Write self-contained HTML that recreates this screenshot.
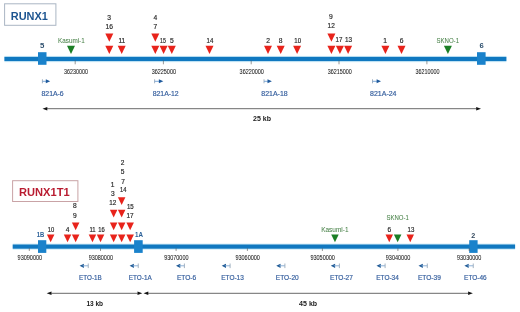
<!DOCTYPE html>
<html><head><meta charset="utf-8"><title>RUNX1 / RUNX1T1</title>
<style>
html,body{margin:0;padding:0;background:#fff;}
body{width:520px;height:312px;overflow:hidden;}
svg{display:block;font-family:'Liberation Sans', Arial, sans-serif;}
</style></head>
<body>
<svg width="520" height="312" viewBox="0 0 520 312">
<rect x="0" y="0" width="520" height="312" fill="#fff"/>
<rect x="4.6" y="3.8" width="51.3" height="21.5" fill="none" stroke="#aab6c4" stroke-width="1"/>
<text x="29.35" y="20.30" font-size="11.7" fill="#1c5490" text-anchor="middle" font-weight="bold" textLength="37.10" lengthAdjust="spacingAndGlyphs">RUNX1</text>
<rect x="4.40" y="55.90" width="502.00" height="6.30" fill="#d3eef9" />
<rect x="4.40" y="56.85" width="502.00" height="4.25" fill="#1078c0" />
<rect x="38.00" y="52.20" width="8.50" height="12.60" fill="#1a82cb" />
<rect x="477.00" y="52.20" width="8.60" height="12.60" fill="#1a82cb" />
<text x="42.20" y="47.80" font-size="7.8" fill="#2d4f6e" text-anchor="middle" font-weight="bold">5</text>
<text x="481.70" y="47.50" font-size="7.6" fill="#2d4f6e" text-anchor="middle" font-weight="bold">6</text>
<line x1="75.20" y1="60.50" x2="75.20" y2="64.30" stroke="#555" stroke-width="0.6"/>
<text x="75.90" y="73.60" font-size="6.6" fill="#222" text-anchor="middle" textLength="24.00" lengthAdjust="spacingAndGlyphs" stroke="#222" stroke-width="0.06">36230000</text>
<line x1="163.40" y1="60.50" x2="163.40" y2="64.30" stroke="#555" stroke-width="0.6"/>
<text x="163.85" y="73.60" font-size="6.6" fill="#222" text-anchor="middle" textLength="24.30" lengthAdjust="spacingAndGlyphs" stroke="#222" stroke-width="0.06">36225000</text>
<line x1="251.20" y1="60.50" x2="251.20" y2="64.30" stroke="#555" stroke-width="0.6"/>
<text x="251.75" y="73.60" font-size="6.6" fill="#222" text-anchor="middle" textLength="24.30" lengthAdjust="spacingAndGlyphs" stroke="#222" stroke-width="0.06">36220000</text>
<line x1="339.00" y1="60.50" x2="339.00" y2="64.30" stroke="#555" stroke-width="0.6"/>
<text x="339.70" y="73.60" font-size="6.6" fill="#222" text-anchor="middle" textLength="24.00" lengthAdjust="spacingAndGlyphs" stroke="#222" stroke-width="0.06">36215000</text>
<line x1="426.90" y1="60.50" x2="426.90" y2="64.30" stroke="#555" stroke-width="0.6"/>
<text x="427.50" y="73.60" font-size="6.6" fill="#222" text-anchor="middle" textLength="24.20" lengthAdjust="spacingAndGlyphs" stroke="#222" stroke-width="0.06">36210000</text>
<polygon points="105.30,33.40 113.30,33.40 109.30,41.70" fill="#e8231b"/>
<polygon points="105.30,45.70 113.30,45.70 109.30,54.10" fill="#e8231b"/>
<polygon points="117.70,45.70 125.70,45.70 121.70,54.10" fill="#e8231b"/>
<polygon points="151.30,33.40 159.30,33.40 155.30,41.70" fill="#e8231b"/>
<polygon points="151.30,45.70 159.30,45.70 155.30,54.10" fill="#e8231b"/>
<polygon points="159.60,45.70 167.60,45.70 163.60,54.10" fill="#e8231b"/>
<polygon points="167.80,45.70 175.80,45.70 171.80,54.10" fill="#e8231b"/>
<polygon points="205.50,45.70 213.50,45.70 209.50,54.10" fill="#e8231b"/>
<polygon points="264.00,45.70 272.00,45.70 268.00,54.10" fill="#e8231b"/>
<polygon points="276.70,45.70 284.70,45.70 280.70,54.10" fill="#e8231b"/>
<polygon points="293.10,45.70 301.10,45.70 297.10,54.10" fill="#e8231b"/>
<polygon points="327.40,33.40 335.40,33.40 331.40,41.70" fill="#e8231b"/>
<polygon points="327.40,45.70 335.40,45.70 331.40,54.10" fill="#e8231b"/>
<polygon points="335.90,45.70 343.90,45.70 339.90,54.10" fill="#e8231b"/>
<polygon points="344.10,45.70 352.10,45.70 348.10,54.10" fill="#e8231b"/>
<polygon points="381.40,45.70 389.40,45.70 385.40,54.10" fill="#e8231b"/>
<polygon points="397.50,45.70 405.50,45.70 401.50,54.10" fill="#e8231b"/>
<polygon points="67.00,45.70 75.00,45.70 71.00,54.10" fill="#1b7f25"/>
<polygon points="443.90,45.70 451.90,45.70 447.90,54.10" fill="#1b7f25"/>
<text x="109.10" y="20.20" font-size="6.7" fill="#2a2a2a" text-anchor="middle" stroke="#2a2a2a" stroke-width="0.18">3</text>
<text x="109.35" y="29.30" font-size="6.7" fill="#2a2a2a" text-anchor="middle" textLength="7.50" lengthAdjust="spacingAndGlyphs" stroke="#2a2a2a" stroke-width="0.18">16</text>
<text x="121.85" y="43.20" font-size="6.7" fill="#2a2a2a" text-anchor="middle" textLength="6.90" lengthAdjust="spacingAndGlyphs" stroke="#2a2a2a" stroke-width="0.18">11</text>
<text x="155.25" y="20.00" font-size="6.7" fill="#2a2a2a" text-anchor="middle" stroke="#2a2a2a" stroke-width="0.18">4</text>
<text x="155.25" y="29.20" font-size="6.7" fill="#2a2a2a" text-anchor="middle" stroke="#2a2a2a" stroke-width="0.18">7</text>
<text x="162.90" y="43.40" font-size="6.7" fill="#2a2a2a" text-anchor="middle" textLength="5.80" lengthAdjust="spacingAndGlyphs" stroke="#2a2a2a" stroke-width="0.18">15</text>
<text x="171.95" y="43.40" font-size="6.7" fill="#2a2a2a" text-anchor="middle" stroke="#2a2a2a" stroke-width="0.18">5</text>
<text x="209.90" y="43.40" font-size="6.7" fill="#2a2a2a" text-anchor="middle" textLength="6.80" lengthAdjust="spacingAndGlyphs" stroke="#2a2a2a" stroke-width="0.18">14</text>
<text x="268.05" y="43.00" font-size="6.7" fill="#2a2a2a" text-anchor="middle" stroke="#2a2a2a" stroke-width="0.18">2</text>
<text x="280.50" y="43.00" font-size="6.7" fill="#2a2a2a" text-anchor="middle" stroke="#2a2a2a" stroke-width="0.18">8</text>
<text x="297.70" y="43.00" font-size="6.7" fill="#2a2a2a" text-anchor="middle" textLength="6.80" lengthAdjust="spacingAndGlyphs" stroke="#2a2a2a" stroke-width="0.18">10</text>
<text x="330.90" y="18.60" font-size="6.7" fill="#2a2a2a" text-anchor="middle" stroke="#2a2a2a" stroke-width="0.18">9</text>
<text x="331.20" y="27.80" font-size="6.7" fill="#2a2a2a" text-anchor="middle" textLength="7.20" lengthAdjust="spacingAndGlyphs" stroke="#2a2a2a" stroke-width="0.18">12</text>
<text x="339.05" y="41.70" font-size="6.7" fill="#2a2a2a" text-anchor="middle" textLength="6.90" lengthAdjust="spacingAndGlyphs" stroke="#2a2a2a" stroke-width="0.18">17</text>
<text x="348.45" y="41.70" font-size="6.7" fill="#2a2a2a" text-anchor="middle" textLength="7.10" lengthAdjust="spacingAndGlyphs" stroke="#2a2a2a" stroke-width="0.18">13</text>
<text x="385.15" y="43.00" font-size="6.7" fill="#2a2a2a" text-anchor="middle" stroke="#2a2a2a" stroke-width="0.18">1</text>
<text x="401.65" y="43.00" font-size="6.7" fill="#2a2a2a" text-anchor="middle" stroke="#2a2a2a" stroke-width="0.18">6</text>
<text x="71.35" y="43.40" font-size="6.6" fill="#4a834a" text-anchor="middle" textLength="26.70" lengthAdjust="spacingAndGlyphs" stroke="#4a834a" stroke-width="0.05">Kasumi-1</text>
<text x="447.75" y="43.40" font-size="6.6" fill="#4a834a" text-anchor="middle" textLength="22.50" lengthAdjust="spacingAndGlyphs" stroke="#4a834a" stroke-width="0.05">SKNO-1</text>
<line x1="42.40" y1="79.30" x2="42.40" y2="83.30" stroke="#9aaabb" stroke-width="0.9"/>
<line x1="42.40" y1="81.30" x2="47.20" y2="81.30" stroke="#6f9fd2" stroke-width="0.9"/>
<polygon points="45.80,79.30 50.20,81.30 45.80,83.30" fill="#1f5a9c"/>
<line x1="154.60" y1="79.30" x2="154.60" y2="83.30" stroke="#9aaabb" stroke-width="0.9"/>
<line x1="154.60" y1="81.30" x2="160.30" y2="81.30" stroke="#6f9fd2" stroke-width="0.9"/>
<polygon points="158.90,79.30 163.30,81.30 158.90,83.30" fill="#1f5a9c"/>
<line x1="264.00" y1="79.30" x2="264.00" y2="83.30" stroke="#9aaabb" stroke-width="0.9"/>
<line x1="264.00" y1="81.30" x2="268.90" y2="81.30" stroke="#6f9fd2" stroke-width="0.9"/>
<polygon points="267.50,79.30 271.90,81.30 267.50,83.30" fill="#1f5a9c"/>
<line x1="372.50" y1="79.30" x2="372.50" y2="83.30" stroke="#9aaabb" stroke-width="0.9"/>
<line x1="372.50" y1="81.30" x2="378.00" y2="81.30" stroke="#6f9fd2" stroke-width="0.9"/>
<polygon points="376.60,79.30 381.00,81.30 376.60,83.30" fill="#1f5a9c"/>
<text x="52.60" y="95.70" font-size="7.0" fill="#37609f" text-anchor="middle" textLength="22.20" lengthAdjust="spacingAndGlyphs" stroke="#37609f" stroke-width="0.18">821A-6</text>
<text x="165.70" y="95.70" font-size="7.0" fill="#37609f" text-anchor="middle" textLength="26.00" lengthAdjust="spacingAndGlyphs" stroke="#37609f" stroke-width="0.18">821A-12</text>
<text x="274.50" y="95.70" font-size="7.0" fill="#37609f" text-anchor="middle" textLength="26.40" lengthAdjust="spacingAndGlyphs" stroke="#37609f" stroke-width="0.18">821A-18</text>
<text x="383.30" y="95.70" font-size="7.0" fill="#37609f" text-anchor="middle" textLength="26.40" lengthAdjust="spacingAndGlyphs" stroke="#37609f" stroke-width="0.18">821A-24</text>
<line x1="47.10" y1="108.70" x2="476.40" y2="108.70" stroke="#6a6a6a" stroke-width="1"/>
<polygon points="42.50,108.70 47.30,107.00 47.30,110.40" fill="#111"/>
<polygon points="481.00,108.70 476.20,107.00 476.20,110.40" fill="#111"/>
<text x="262.00" y="120.80" font-size="7.4" fill="#1a1a1a" text-anchor="middle" font-weight="bold" textLength="18.00" lengthAdjust="spacingAndGlyphs">25 kb</text>
<rect x="12.6" y="180.7" width="65.3" height="20.8" fill="none" stroke="#c9a3a6" stroke-width="1"/>
<text x="44.30" y="196.00" font-size="11.0" fill="#b91c31" text-anchor="middle" font-weight="bold" textLength="50.60" lengthAdjust="spacingAndGlyphs">RUNX1T1</text>
<rect x="12.70" y="243.50" width="502.40" height="6.30" fill="#d3eef9" />
<rect x="12.70" y="244.50" width="502.40" height="4.20" fill="#1078c0" />
<rect x="38.00" y="240.20" width="8.30" height="12.70" fill="#1a82cb" />
<rect x="134.10" y="240.20" width="8.60" height="12.70" fill="#1a82cb" />
<rect x="469.20" y="240.20" width="8.40" height="12.70" fill="#1a82cb" />
<text x="40.45" y="236.50" font-size="6.4" fill="#2b6098" text-anchor="middle" font-weight="bold" textLength="7.50" lengthAdjust="spacingAndGlyphs">1B</text>
<text x="139.00" y="236.50" font-size="6.6" fill="#2b6098" text-anchor="middle" font-weight="bold" textLength="8.00" lengthAdjust="spacingAndGlyphs">1A</text>
<text x="473.30" y="237.60" font-size="7.2" fill="#34495e" text-anchor="middle" font-weight="bold">2</text>
<line x1="29.30" y1="248.20" x2="29.30" y2="251.00" stroke="#555" stroke-width="0.6"/>
<text x="29.85" y="259.60" font-size="6.6" fill="#222" text-anchor="middle" textLength="24.50" lengthAdjust="spacingAndGlyphs" stroke="#222" stroke-width="0.06">93090000</text>
<line x1="100.50" y1="248.20" x2="100.50" y2="251.00" stroke="#555" stroke-width="0.6"/>
<text x="100.85" y="259.60" font-size="6.6" fill="#222" text-anchor="middle" textLength="24.30" lengthAdjust="spacingAndGlyphs" stroke="#222" stroke-width="0.06">93080000</text>
<line x1="176.10" y1="248.20" x2="176.10" y2="251.00" stroke="#555" stroke-width="0.6"/>
<text x="176.35" y="259.60" font-size="6.6" fill="#222" text-anchor="middle" textLength="24.30" lengthAdjust="spacingAndGlyphs" stroke="#222" stroke-width="0.06">93070000</text>
<line x1="247.40" y1="248.20" x2="247.40" y2="251.00" stroke="#555" stroke-width="0.6"/>
<text x="247.65" y="259.60" font-size="6.6" fill="#222" text-anchor="middle" textLength="24.50" lengthAdjust="spacingAndGlyphs" stroke="#222" stroke-width="0.06">93060000</text>
<line x1="322.40" y1="248.20" x2="322.40" y2="251.00" stroke="#555" stroke-width="0.6"/>
<text x="322.65" y="259.60" font-size="6.6" fill="#222" text-anchor="middle" textLength="24.50" lengthAdjust="spacingAndGlyphs" stroke="#222" stroke-width="0.06">93050000</text>
<line x1="397.90" y1="248.20" x2="397.90" y2="251.00" stroke="#555" stroke-width="0.6"/>
<text x="398.05" y="259.60" font-size="6.6" fill="#222" text-anchor="middle" textLength="24.50" lengthAdjust="spacingAndGlyphs" stroke="#222" stroke-width="0.06">93040000</text>
<line x1="469.20" y1="248.20" x2="469.20" y2="251.00" stroke="#555" stroke-width="0.6"/>
<text x="469.20" y="259.60" font-size="6.6" fill="#222" text-anchor="middle" textLength="24.40" lengthAdjust="spacingAndGlyphs" stroke="#222" stroke-width="0.06">93030000</text>
<polygon points="46.90,234.60 54.40,234.60 50.65,242.30" fill="#e8231b"/>
<polygon points="63.80,234.60 71.30,234.60 67.55,242.30" fill="#e8231b"/>
<polygon points="71.90,222.40 79.40,222.40 75.65,230.20" fill="#e8231b"/>
<polygon points="71.90,234.60 79.40,234.60 75.65,242.30" fill="#e8231b"/>
<polygon points="88.70,234.60 96.20,234.60 92.45,242.30" fill="#e8231b"/>
<polygon points="96.80,234.60 104.30,234.60 100.55,242.30" fill="#e8231b"/>
<polygon points="109.90,209.80 117.40,209.80 113.65,217.60" fill="#e8231b"/>
<polygon points="109.90,222.40 117.40,222.40 113.65,230.20" fill="#e8231b"/>
<polygon points="109.90,234.60 117.40,234.60 113.65,242.30" fill="#e8231b"/>
<polygon points="117.90,197.20 125.40,197.20 121.65,204.90" fill="#e8231b"/>
<polygon points="117.90,209.80 125.40,209.80 121.65,217.60" fill="#e8231b"/>
<polygon points="117.90,222.40 125.40,222.40 121.65,230.20" fill="#e8231b"/>
<polygon points="117.90,234.60 125.40,234.60 121.65,242.30" fill="#e8231b"/>
<polygon points="126.40,222.40 133.90,222.40 130.15,230.20" fill="#e8231b"/>
<polygon points="126.40,234.60 133.90,234.60 130.15,242.30" fill="#e8231b"/>
<polygon points="331.20,234.60 338.70,234.60 334.95,242.30" fill="#1b7f25"/>
<polygon points="385.50,234.60 393.00,234.60 389.25,242.30" fill="#e8231b"/>
<polygon points="393.90,234.60 401.40,234.60 397.65,242.30" fill="#1b7f25"/>
<polygon points="406.50,234.60 414.00,234.60 410.25,242.30" fill="#e8231b"/>
<text x="51.05" y="231.80" font-size="6.6" fill="#2a2a2a" text-anchor="middle" textLength="6.50" lengthAdjust="spacingAndGlyphs" stroke="#2a2a2a" stroke-width="0.18">10</text>
<text x="67.70" y="231.80" font-size="6.6" fill="#2a2a2a" text-anchor="middle" stroke="#2a2a2a" stroke-width="0.18">4</text>
<text x="74.90" y="208.40" font-size="6.6" fill="#2a2a2a" text-anchor="middle" stroke="#2a2a2a" stroke-width="0.18">8</text>
<text x="74.90" y="217.50" font-size="6.6" fill="#2a2a2a" text-anchor="middle" stroke="#2a2a2a" stroke-width="0.18">9</text>
<text x="92.50" y="232.10" font-size="6.6" fill="#2a2a2a" text-anchor="middle" textLength="6.20" lengthAdjust="spacingAndGlyphs" stroke="#2a2a2a" stroke-width="0.18">11</text>
<text x="101.45" y="232.10" font-size="6.6" fill="#2a2a2a" text-anchor="middle" textLength="6.50" lengthAdjust="spacingAndGlyphs" stroke="#2a2a2a" stroke-width="0.18">16</text>
<text x="112.55" y="187.20" font-size="6.6" fill="#2a2a2a" text-anchor="middle" stroke="#2a2a2a" stroke-width="0.18">1</text>
<text x="112.80" y="196.00" font-size="6.6" fill="#2a2a2a" text-anchor="middle" stroke="#2a2a2a" stroke-width="0.18">3</text>
<text x="112.75" y="205.00" font-size="6.6" fill="#2a2a2a" text-anchor="middle" textLength="7.10" lengthAdjust="spacingAndGlyphs" stroke="#2a2a2a" stroke-width="0.18">12</text>
<text x="122.60" y="165.40" font-size="6.6" fill="#2a2a2a" text-anchor="middle" stroke="#2a2a2a" stroke-width="0.18">2</text>
<text x="122.60" y="174.20" font-size="6.6" fill="#2a2a2a" text-anchor="middle" stroke="#2a2a2a" stroke-width="0.18">5</text>
<text x="123.00" y="183.70" font-size="6.6" fill="#2a2a2a" text-anchor="middle" stroke="#2a2a2a" stroke-width="0.18">7</text>
<text x="123.20" y="192.30" font-size="6.6" fill="#2a2a2a" text-anchor="middle" textLength="6.40" lengthAdjust="spacingAndGlyphs" stroke="#2a2a2a" stroke-width="0.18">14</text>
<text x="130.30" y="208.60" font-size="6.6" fill="#2a2a2a" text-anchor="middle" textLength="6.80" lengthAdjust="spacingAndGlyphs" stroke="#2a2a2a" stroke-width="0.18">15</text>
<text x="130.00" y="217.80" font-size="6.6" fill="#2a2a2a" text-anchor="middle" textLength="7.20" lengthAdjust="spacingAndGlyphs" stroke="#2a2a2a" stroke-width="0.18">17</text>
<text x="334.85" y="231.70" font-size="6.6" fill="#4a834a" text-anchor="middle" textLength="27.30" lengthAdjust="spacingAndGlyphs" stroke="#4a834a" stroke-width="0.05">Kasumi-1</text>
<text x="389.45" y="231.80" font-size="6.6" fill="#2a2a2a" text-anchor="middle" stroke="#2a2a2a" stroke-width="0.18">6</text>
<text x="411.00" y="231.80" font-size="6.6" fill="#2a2a2a" text-anchor="middle" textLength="6.80" lengthAdjust="spacingAndGlyphs" stroke="#2a2a2a" stroke-width="0.18">13</text>
<text x="397.60" y="219.60" font-size="6.5" fill="#4a834a" text-anchor="middle" textLength="22.40" lengthAdjust="spacingAndGlyphs" stroke="#4a834a" stroke-width="0.05">SKNO-1</text>
<polygon points="79.60,265.80 83.90,263.70 83.90,267.90" fill="#1f5a96"/>
<line x1="82.60" y1="265.80" x2="88.25" y2="265.80" stroke="#7fa8d4" stroke-width="0.9"/>
<line x1="88.25" y1="263.50" x2="88.25" y2="268.10" stroke="#9aaabb" stroke-width="0.9"/>
<text x="90.40" y="280.40" font-size="7.0" fill="#37609f" text-anchor="middle" textLength="22.60" lengthAdjust="spacingAndGlyphs" stroke="#37609f" stroke-width="0.18">ETO-1B</text>
<polygon points="129.60,265.80 133.90,263.70 133.90,267.90" fill="#1f5a96"/>
<line x1="132.60" y1="265.80" x2="138.25" y2="265.80" stroke="#7fa8d4" stroke-width="0.9"/>
<line x1="138.25" y1="263.50" x2="138.25" y2="268.10" stroke="#9aaabb" stroke-width="0.9"/>
<text x="140.25" y="280.40" font-size="7.0" fill="#37609f" text-anchor="middle" textLength="22.90" lengthAdjust="spacingAndGlyphs" stroke="#37609f" stroke-width="0.18">ETO-1A</text>
<polygon points="176.00,265.80 180.30,263.70 180.30,267.90" fill="#1f5a96"/>
<line x1="179.00" y1="265.80" x2="184.40" y2="265.80" stroke="#7fa8d4" stroke-width="0.9"/>
<line x1="184.40" y1="263.50" x2="184.40" y2="268.10" stroke="#9aaabb" stroke-width="0.9"/>
<text x="186.55" y="280.40" font-size="7.0" fill="#37609f" text-anchor="middle" textLength="19.30" lengthAdjust="spacingAndGlyphs" stroke="#37609f" stroke-width="0.18">ETO-6</text>
<polygon points="221.70,265.80 226.00,263.70 226.00,267.90" fill="#1f5a96"/>
<line x1="224.70" y1="265.80" x2="230.10" y2="265.80" stroke="#7fa8d4" stroke-width="0.9"/>
<line x1="230.10" y1="263.50" x2="230.10" y2="268.10" stroke="#9aaabb" stroke-width="0.9"/>
<text x="232.53" y="280.40" font-size="7.0" fill="#37609f" text-anchor="middle" textLength="22.55" lengthAdjust="spacingAndGlyphs" stroke="#37609f" stroke-width="0.18">ETO-13</text>
<polygon points="276.25,265.80 280.55,263.70 280.55,267.90" fill="#1f5a96"/>
<line x1="279.25" y1="265.80" x2="284.90" y2="265.80" stroke="#7fa8d4" stroke-width="0.9"/>
<line x1="284.90" y1="263.50" x2="284.90" y2="268.10" stroke="#9aaabb" stroke-width="0.9"/>
<text x="287.25" y="280.40" font-size="7.0" fill="#37609f" text-anchor="middle" textLength="22.90" lengthAdjust="spacingAndGlyphs" stroke="#37609f" stroke-width="0.18">ETO-20</text>
<polygon points="330.80,265.80 335.10,263.70 335.10,267.90" fill="#1f5a96"/>
<line x1="333.80" y1="265.80" x2="339.40" y2="265.80" stroke="#7fa8d4" stroke-width="0.9"/>
<line x1="339.40" y1="263.50" x2="339.40" y2="268.10" stroke="#9aaabb" stroke-width="0.9"/>
<text x="341.45" y="280.40" font-size="7.0" fill="#37609f" text-anchor="middle" textLength="22.90" lengthAdjust="spacingAndGlyphs" stroke="#37609f" stroke-width="0.18">ETO-27</text>
<polygon points="376.50,265.80 380.80,263.70 380.80,267.90" fill="#1f5a96"/>
<line x1="379.50" y1="265.80" x2="385.10" y2="265.80" stroke="#7fa8d4" stroke-width="0.9"/>
<line x1="385.10" y1="263.50" x2="385.10" y2="268.10" stroke="#9aaabb" stroke-width="0.9"/>
<text x="387.52" y="280.40" font-size="7.0" fill="#37609f" text-anchor="middle" textLength="22.55" lengthAdjust="spacingAndGlyphs" stroke="#37609f" stroke-width="0.18">ETO-34</text>
<polygon points="418.50,265.80 422.80,263.70 422.80,267.90" fill="#1f5a96"/>
<line x1="421.50" y1="265.80" x2="427.30" y2="265.80" stroke="#7fa8d4" stroke-width="0.9"/>
<line x1="427.30" y1="263.50" x2="427.30" y2="268.10" stroke="#9aaabb" stroke-width="0.9"/>
<text x="429.35" y="280.40" font-size="7.0" fill="#37609f" text-anchor="middle" textLength="22.90" lengthAdjust="spacingAndGlyphs" stroke="#37609f" stroke-width="0.18">ETO-39</text>
<polygon points="464.40,265.80 468.70,263.70 468.70,267.90" fill="#1f5a96"/>
<line x1="467.40" y1="265.80" x2="473.25" y2="265.80" stroke="#7fa8d4" stroke-width="0.9"/>
<line x1="473.25" y1="263.50" x2="473.25" y2="268.10" stroke="#9aaabb" stroke-width="0.9"/>
<text x="475.40" y="280.40" font-size="7.0" fill="#37609f" text-anchor="middle" textLength="22.60" lengthAdjust="spacingAndGlyphs" stroke="#37609f" stroke-width="0.18">ETO-46</text>
<line x1="51.30" y1="293.30" x2="137.70" y2="293.30" stroke="#6a6a6a" stroke-width="1"/>
<polygon points="46.70,293.30 51.50,291.60 51.50,295.00" fill="#111"/>
<polygon points="142.30,293.30 137.50,291.60 137.50,295.00" fill="#111"/>
<line x1="148.10" y1="293.30" x2="468.30" y2="293.30" stroke="#6a6a6a" stroke-width="1"/>
<polygon points="143.50,293.30 148.30,291.60 148.30,295.00" fill="#111"/>
<polygon points="472.90,293.30 468.10,291.60 468.10,295.00" fill="#111"/>
<text x="94.75" y="306.10" font-size="7.4" fill="#1a1a1a" text-anchor="middle" font-weight="bold" textLength="16.70" lengthAdjust="spacingAndGlyphs">13 kb</text>
<text x="308.10" y="306.10" font-size="7.4" fill="#1a1a1a" text-anchor="middle" font-weight="bold" textLength="18.00" lengthAdjust="spacingAndGlyphs">45 kb</text>
</svg>
</body></html>
